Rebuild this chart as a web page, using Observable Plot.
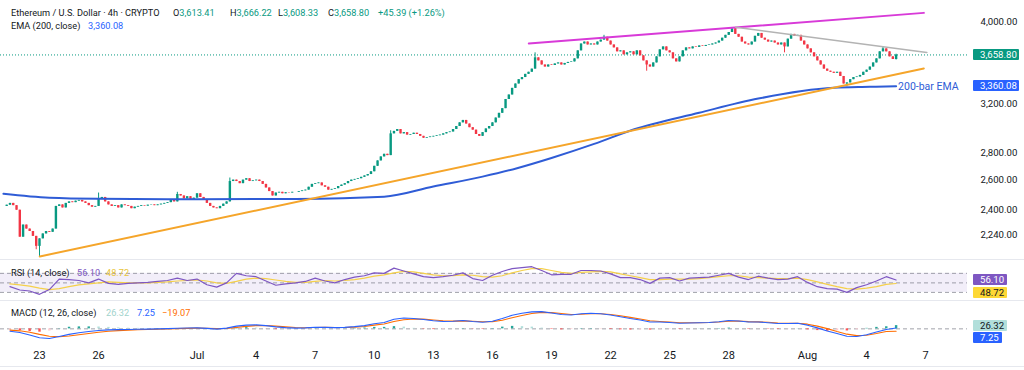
<!DOCTYPE html>
<html><head><meta charset="utf-8">
<script src="https://cdn.jsdelivr.net/npm/d3@7"></script>
<script src="https://cdn.jsdelivr.net/npm/@observablehq/plot@0.6"></script>
<style>
body{margin:0;background:#fff;}
#chart{position:relative;width:1024px;height:370px;overflow:hidden;font-family:Roboto,"Liberation Sans",sans-serif;color:#131722;background:#fff;}
#chart svg{position:absolute;left:0;}
.t{position:absolute;white-space:nowrap;font-size:9.2px;line-height:12px;color:#131722;}
.box{position:absolute;box-sizing:border-box;height:11px;font-size:9.6px;line-height:11px;padding-left:7px;white-space:nowrap;border-radius:1px;}
.sep{position:absolute;left:0;width:1024px;height:1px;background:#e6e8ee;}
</style></head>
<body><div id="chart"></div>
<script>
// ---------------- DATA ----------------
const candleStart = "2025-06-21T08:00Z";   // 4h candles
const firstOpen = 2420;
const closes = [
 2428,2440,2425,2395,
 2225,2300,2275,2260,2230,2170,
 2215,2245,2260,2255,2275,2420,
 2430,2410,2440,2450,2445,2455,
 2460,2450,2440,2425,2415,2420,
 2470,2480,2450,2430,2420,2425,
 2410,2430,2425,2420,2405,2415,
 2420,2425,2422,2428,2430,2425,
 2430,2435,2440,2445,2460,2450,
 2500,2490,2470,2485,2460,2475,
 2505,2480,2460,2440,2420,2410,
 2405,2420,2435,2450,2590,2600,
 2590,2575,2600,2610,2590,2595,
 2600,2590,2570,2545,2520,2490,
 2510,2515,2505,2512,2510,2515,
 2515,2520,2525,2530,2550,2570,
 2575,2580,2560,2550,2530,2535,
 2540,2555,2565,2575,2590,2600,
 2605,2610,2620,2630,2640,2660,
 2700,2740,2770,2790,2780,2950,
 2970,2985,2950,2960,2940,2945,
 2955,2945,2930,2915,2920,2925,
 2930,2935,2940,2950,2960,2965,
 2985,3010,3040,3060,3030,3000,
 2980,2945,2930,2960,2990,3010,
 3040,3080,3120,3160,3240,3280,
 3340,3380,3420,3440,3470,3490,
 3520,3630,3600,3560,3540,3560,
 3555,3570,3580,3560,3575,3585,
 3590,3620,3700,3770,3790,3760,
 3770,3760,3790,3810,3840,3800,
 3760,3730,3690,3700,3660,3680,
 3690,3660,3700,3650,3600,3560,
 3540,3580,3640,3710,3740,3700,
 3680,3620,3590,3640,3700,3730,
 3720,3740,3735,3750,3745,3755,
 3760,3770,3780,3800,3830,3860,
 3890,3930,3870,3840,3790,3770,
 3760,3790,3850,3880,3830,3810,
 3790,3800,3780,3760,3780,3740,
 3820,3870,3850,3860,3800,3760,
 3720,3680,3640,3600,3560,3520,
 3500,3490,3480,3490,3450,3380,
 3390,3420,3440,3445,3460,3490,
 3510,3540,3580,3620,3690,3720,
 3690,3640,3613.41,3658.80
];
// notable wicks
const wickDates = ["2025-06-22T20:00Z","2025-06-23T00:00Z","2025-06-26T00:00Z","2025-06-30T00:00Z","2025-07-02T16:00Z","2025-07-10T20:00Z","2025-07-18T04:00Z","2025-07-21T16:00Z","2025-07-23T20:00Z","2025-07-28T04:00Z","2025-07-30T20:00Z","2025-08-03T00:00Z","2025-08-04T20:00Z","2025-08-05T12:00Z"];
const wickHighs = [null,null,2510,2515,2615,2975,3680,3860,null,3941,null,null,3740,3666.22];
const wickLows  = [2150,2111,null,null,null,null,null,null,3500,null,3680,3355,null,3608.33];

const emaDates = ["2025-06-21T04:00Z","2025-06-23T12:00Z","2025-06-26T00:00Z","2025-07-01T00:00Z","2025-07-06T00:00Z","2025-07-10T12:00Z","2025-07-13T00:00Z","2025-07-15T12:00Z","2025-07-17T06:00Z","2025-07-19T00:00Z","2025-07-21T04:00Z","2025-07-23T04:00Z","2025-07-26T12:00Z","2025-07-29T12:00Z","2025-08-02T08:00Z","2025-08-04T04:00Z","2025-08-05T12:00Z"];
const emaValues = [2505,2478,2471,2468,2470,2485,2555,2625,2686,2762,2870,2985,3125,3248,3345,3354,3360.08];

const magentaDates = ["2025-07-17T20:20Z","2025-08-06T21:45Z"], magentaValues = [3776,4104];
const grayDates    = ["2025-07-28T08:30Z","2025-08-07T01:25Z"], grayValues    = [3946,3684];
const orangeDates  = ["2025-06-23T00:20Z","2025-08-06T21:45Z"], orangeValues  = [2111,3526];

const priceTicks = [4000,3200,2800,2600,2400,2240];
const lastClose = 3658.80, lastEma = 3360.08;

const xTickDates  = ["2025-06-23","2025-06-26","2025-07-01","2025-07-04","2025-07-07","2025-07-10","2025-07-13","2025-07-16","2025-07-19","2025-07-22","2025-07-25","2025-07-28","2025-08-01","2025-08-04","2025-08-07"];
const xTickLabels = ["23","26","Jul","4","7","10","13","16","19","22","25","28","Aug","4","7"];

// oscillators, 12h readings
const oscStart = "2025-06-21T12:00Z";
const rsi = [42,
 35,33, 26,36, 58,57, 55,50, 58,49, 47,49, 50,51, 53,55, 60,55,
 58,46, 41,50, 70,65, 63,54, 45,48, 50,53, 60,54, 50,57, 62,65, 71,70,
 81,75, 69,63, 61,63, 66,71, 59,55, 66,74, 80,82, 84,76, 67,68, 68,76,
 76,75, 69,61, 61,57, 49,60, 61,54, 60,61, 62,66, 70,62, 57,64, 60,57,
 58,63, 51,42, 38,37, 30,40, 46,54, 63,56.10];
const rsiMA = [48,
 46,43, 39,36, 38,42, 46,48, 50,52, 51,50, 50,50, 51,52, 54,55,
 56,54, 50,49, 53,58, 60,59, 56,53, 51,51, 53,55, 54,55, 57,60, 64,67,
 71,74, 73,70, 67,65, 65,67, 66,63, 62,65, 71,76, 80,80, 76,72, 70,72,
 73,74, 73,69, 65,61, 57,57, 58,58, 58,59, 61,63, 65,65, 62,61, 60,59,
 59,60, 57,52, 47,42, 38,37, 39,42, 47,48.72];
const macd = [-20,
 -30,-50, -72,-78, -62,-45, -32,-22, -13,-8, -6,-5, -3,-2, 0,2, 5,7,
 8,4, -2,6, 22,30, 32,26, 16,10, 6,8, 13,12, 10,12, 18,26, 42,52,
 78,88, 84,76, 66,60, 62,68, 60,54, 62,84, 110,126, 138,140, 128,116, 112,122,
 126,122, 112,98, 84,72, 56,56, 52,46, 48,50, 52,58, 68,64, 55,56, 50,44,
 44,46, 30,8, -18,-38, -60,-62, -48,-26, -5,7.25];
const signal = [-10,
 -16,-28, -45,-60, -64,-58, -48,-38, -28,-20, -14,-10, -7,-5, -3,-1, 2,4,
 6,5, 2,3, 12,20, 26,27, 22,16, 11,9, 11,12, 11,11, 14,19, 30,40,
 60,74, 80,79, 72,66, 63,65, 62,58, 59,70, 90,108, 124,134, 132,124, 117,119,
 123,123, 117,106, 93,80, 66,60, 55,50, 49,49, 51,55, 62,64, 59,57, 53,48,
 46,45, 38,22, 2,-22, -43,-55, -52,-38, -22,-19.07];

// ---------------- BUILD ----------------
const H4 = 4*3600e3, H12 = 12*3600e3;
const t0 = new Date(candleStart).getTime();
const wickMap = new Map(wickDates.map((d,i)=>[new Date(d).getTime(), i]));
const candles = closes.map((c,i)=>{
  const date = new Date(t0 + i*H4);
  const open = i===0 ? firstOpen : closes[i-1];
  let high = Math.max(open,c), low = Math.min(open,c);
  const w = wickMap.get(date.getTime());
  if (w !== undefined) { if (wickHighs[w]!=null) high = wickHighs[w]; if (wickLows[w]!=null) low = wickLows[w]; }
  return {date, open, close:c, high, low, color: c>=open ? "#089981" : "#f23645"};
});
const ema = emaDates.map((d,i)=>({date:new Date(d), v:emaValues[i]}));
const seg = (ds,vs)=>ds.map((d,i)=>({date:new Date(d), v:vs[i]}));
const o0 = new Date(oscStart).getTime();
const osc = rsi.map((r,i)=>({date:new Date(o0+i*H12), rsi:r, ma:rsiMA[i], macd:macd[i], signal:signal[i]}));
osc.forEach((d,i)=>{
  d.hist = d.macd - d.signal;
  const prev = i>0 ? osc[i-1].macd - osc[i-1].signal : d.hist;
  d.hcolor = d.hist>=0 ? (d.hist>=prev ? "#26a69a" : "#b2dfdb") : (d.hist<prev ? "#ff5252" : "#ffcdd2");
});

const xDomain = [new Date("2025-06-21T00:28Z"), new Date("2025-08-09T03:00Z")];
const font = {fontFamily:"Roboto, 'Liberation Sans', sans-serif", fontSize:"10px", color:"#131722", background:"transparent", overflow:"visible"};
const chart = document.getElementById("chart");

const main = Plot.plot({
  width:1024, height:259, marginLeft:0, marginRight:57, marginTop:0, marginBottom:0,
  style: font,
  x:{type:"utc", domain:xDomain, axis:null},
  y:{type:"log", domain:[2093.6,4245], axis:null},
  marks:[
    Plot.axisY(priceTicks, {anchor:"right", tickSize:0, tickPadding:13, tickFormat:d3.format(",.2f"), fill:"#131722", fontSize:9.6}),
    Plot.ruleY([lastClose], {stroke:"#089981", strokeWidth:1, strokeDasharray:"1,2"}),
    Plot.ruleX(candles, {x:"date", y1:"low", y2:"high", stroke:"color", strokeWidth:1}),
    Plot.ruleX(candles, {x:"date", y1:"open", y2:"close", stroke:"color", strokeWidth:2.4}),
    Plot.line(ema, {x:"date", y:"v", stroke:"#2f5cd6", strokeWidth:2, curve:"monotone-x"}),
    Plot.line(seg(orangeDates,orangeValues), {x:"date", y:"v", stroke:"#f5a52a", strokeWidth:2}),
    Plot.line(seg(magentaDates,magentaValues), {x:"date", y:"v", stroke:"#d83ad8", strokeWidth:2}),
    Plot.line(seg(grayDates,grayValues), {x:"date", y:"v", stroke:"#b3b3b3", strokeWidth:1.6}),
    Plot.text([ema[ema.length-1]], {x:"date", y:"v", text:()=>"200-bar EMA", textAnchor:"start", dx:2, fill:"#2f5cd6", fontSize:10.5})
  ]
});
main.style.top = "0px";
chart.appendChild(main);

const rsiPlot = Plot.plot({
  width:1024, height:40, marginLeft:0, marginRight:57, marginTop:0, marginBottom:0,
  style: font,
  x:{type:"utc", domain:xDomain, axis:null},
  y:{domain:[13,97], axis:null},
  marks:[
    Plot.rect([{a:xDomain[0], b:xDomain[1]}], {x1:"a", x2:"b", y1:()=>30, y2:()=>70, fill:"#7e57c2", fillOpacity:0.1}),
    Plot.ruleY([70,50,30], {stroke:"#787b86", strokeOpacity:0.7, strokeDasharray:"4,3"}),
    Plot.line(osc, {x:"date", y:"ma", stroke:"#f5d04a", strokeWidth:1.2}),
    Plot.line(osc, {x:"date", y:"rsi", stroke:"#7e57c2", strokeWidth:1.2})
  ]
});
rsiPlot.style.top = "260px";
chart.appendChild(rsiPlot);

const tickMap = new Map(xTickDates.map((d,i)=>[new Date(d+"T00:00Z").getTime(), xTickLabels[i]]));
const macdPlot = Plot.plot({
  width:1024, height:70, marginLeft:0, marginRight:57, marginTop:0, marginBottom:25,
  style: font,
  x:{type:"utc", domain:xDomain, axis:null},
  y:{domain:[-135,230], axis:null},
  marks:[
    Plot.ruleY([0], {stroke:"#787b86", strokeOpacity:0.7, strokeDasharray:"4,3"}),
    Plot.ruleX(osc, {x:"date", y1:()=>0, y2:"hist", stroke:"hcolor", strokeWidth:2.4}),
    Plot.line(osc, {x:"date", y:"signal", stroke:"#ff6d00", strokeWidth:1.1}),
    Plot.line(osc, {x:"date", y:"macd", stroke:"#2962ff", strokeWidth:1.1}),
    Plot.axisX([...tickMap.keys()].map(t=>new Date(t)), {anchor:"bottom", tickSize:0, tickPadding:6, fontSize:11, fill:"#131722", tickFormat:d=>tickMap.get(+d)})
  ]
});
macdPlot.style.top = "300px";
chart.appendChild(macdPlot);

// separators
[259, 300, 366].forEach(y=>{const s=document.createElement("div"); s.className="sep"; s.style.top=y+"px"; chart.appendChild(s);});

// legend texts
function addText(x, yc, html, color){
  const d=document.createElement("div"); d.className="t"; d.style.left=x+"px"; d.style.top=(yc-6)+"px";
  if(color) d.style.color=color; d.innerHTML=html; chart.appendChild(d);
}
const G="#089981";
addText(11,12.7,"Ethereum / U.S. Dollar · 4h · CRYPTO");
addText(173,12.7,`O<span style="color:${G}">3,613.41</span>`);
addText(230,12.7,`H<span style="color:${G}">3,666.22</span>`);
addText(278,12.7,`L<span style="color:${G}">3,608.33</span>`);
addText(328,12.7,`C<span style="color:${G}">3,658.80</span>`);
addText(378,12.7,"+45.39 (+1.26%)",G);
addText(11,26,"EMA (200, close)");
addText(88,26,d3.format(",.2f")(lastEma),"#2962ff");
addText(11,273,"RSI (14, close)");
addText(77,273,"56.10","#7e57c2");
addText(106,273,"48.72","#e8c43a");
addText(11,313,"MACD (12, 26, close)");
addText(106,313,"26.32","#9fd3cc");
addText(137,313,"7.25","#2962ff");
addText(162,313,"\u221219.07","#ff6d00");

// axis value boxes (positions from the plots' own scales)
function addBox(yc, text, bg, fg, w){
  const d=document.createElement("div"); d.className="box"; d.style.left="973px"; d.style.top=(yc-5.5)+"px";
  d.style.width=w+"px"; d.style.background=bg; d.style.color=fg; d.textContent=text; chart.appendChild(d);
}
const fmt2 = d3.format(",.2f");
addBox(main.scale("y").apply(lastClose), fmt2(lastClose), "#089981", "#fff", 46);
addBox(main.scale("y").apply(lastEma), fmt2(lastEma), "#2962ff", "#fff", 46);
const lastOsc = osc[osc.length-1];
let yr1 = rsiPlot.scale("y").apply(lastOsc.rsi)+260, yr2 = rsiPlot.scale("y").apply(lastOsc.ma)+260;
if (Math.abs(yr2-yr1)<12.6) yr2 = yr1+12.6;
addBox(yr1, lastOsc.rsi.toFixed(2), "#7e57c2", "#fff", 34);
addBox(yr2, lastOsc.ma.toFixed(2), "#fdd835", "#131722", 34);
let ym1 = macdPlot.scale("y").apply(lastOsc.hist)+300, ym2 = macdPlot.scale("y").apply(lastOsc.macd)+300;
if (Math.abs(ym2-ym1)<12.6) ym2 = ym1+12.6;
addBox(ym1, lastOsc.hist.toFixed(2), "#b2dfdb", "#131722", 34);
addBox(ym2, lastOsc.macd.toFixed(2), "#2962ff", "#fff", 29);
</script></body></html>
